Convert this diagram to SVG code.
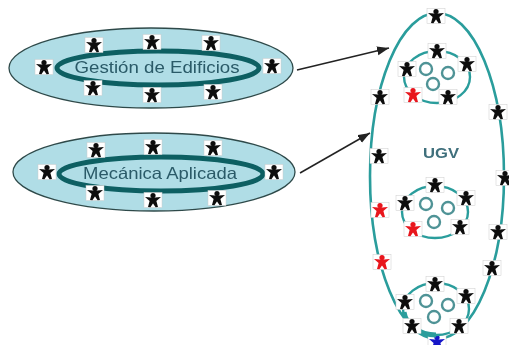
<svg xmlns="http://www.w3.org/2000/svg" width="509" height="345" viewBox="0 0 509 345">
<style>
.outer{fill:#b0dde6;stroke:#2f4a4a;stroke-width:1.3}
.inner{fill:#b0dde6;stroke:#0b5e62;stroke-width:5}
.big{fill:none;stroke:#2a9d9c;stroke-width:2.6}
.small{fill:none;stroke:#2a9d9c;stroke-width:2.4}
.ring{fill:none;stroke:#4f9396;stroke-width:2.4}
.lbl{font-family:"Liberation Sans",Arial,sans-serif;font-size:16.5px;fill:#2a5a68;text-anchor:middle}
.ugv{font-family:"Liberation Sans",Arial,sans-serif;font-size:14px;font-weight:bold;fill:#3f6f7c;text-anchor:middle}
.conn{stroke:#222;stroke-width:1.5;fill:none}
.k{color:#111}.r{color:#e8141c}.b{color:#1414c8}
</style>
<defs>
<marker id="ah" markerUnits="userSpaceOnUse" markerWidth="13" markerHeight="10" refX="12" refY="4.5" orient="auto"><path d="M0 0L12 4.5L0 9Z" fill="#222"/></marker>
<filter id="s" x="-5%" y="-5%" width="110%" height="110%"><feGaussianBlur stdDeviation="0.4"/></filter>
<g id="p">
<rect x="-9" y="-7.5" width="18" height="15" fill="#fff" stroke="#ccc" stroke-width="0.5"/>
<circle cx="0" cy="-4.4" r="2.6" fill="currentColor"/>
<path d="M-8-3L-2-2.6H2L8-3L3.4 1L5 7L2.6 7.2L0 3.4L-2.6 7.2L-5 7L-3.4 1Z" fill="currentColor"/>
</g>
</defs>
<rect width="509" height="345" fill="#fff"/>
<g filter="url(#s)">
<g id="connectors">
<path class="conn" d="M297 70L389 48" marker-end="url(#ah)"/>
<path class="conn" d="M300 173L370 133" marker-end="url(#ah)"/>
</g>
<g id="gestion">
<ellipse class="outer" cx="151" cy="68" rx="142" ry="40"/>
<ellipse class="inner" cx="158" cy="68" rx="101" ry="17"/>
<text class="lbl" x="157" y="73" textLength="165" lengthAdjust="spacingAndGlyphs">Gestión de Edificios</text>
<g class="k">
<use href="#p" x="94" y="45"/><use href="#p" x="152" y="42"/><use href="#p" x="211" y="43"/><use href="#p" x="44" y="67"/>
<use href="#p" x="272" y="66"/><use href="#p" x="93" y="88"/><use href="#p" x="152" y="95"/><use href="#p" x="213" y="92"/>
</g>
</g>
<g id="mecanica">
<ellipse class="outer" cx="154" cy="172" rx="141" ry="39"/>
<ellipse class="inner" cx="161" cy="174" rx="102" ry="17"/>
<text class="lbl" x="160" y="179" textLength="154" lengthAdjust="spacingAndGlyphs">Mecánica Aplicada</text>
<g class="k">
<use href="#p" x="96" y="150"/><use href="#p" x="153" y="147"/><use href="#p" x="213" y="148"/><use href="#p" x="47" y="172"/>
<use href="#p" x="274" y="172"/><use href="#p" x="95" y="193"/><use href="#p" x="153" y="200"/><use href="#p" x="217" y="198"/>
</g>
</g>
<g id="ugv">
<ellipse class="big" cx="437" cy="176" rx="67" ry="163"/>
<text class="ugv" x="441" y="158" textLength="36" lengthAdjust="spacingAndGlyphs">UGV</text>
<g class="k">
<use href="#p" x="436" y="16"/><use href="#p" x="380" y="97"/><use href="#p" x="498" y="112"/><use href="#p" x="379" y="156"/>
<use href="#p" x="505" y="178"/><use href="#p" x="498" y="232"/><use href="#p" x="492" y="268"/>
</g>
<g class="r"><use href="#p" x="380" y="210"/><use href="#p" x="382" y="262"/></g>
<g class="b"><use href="#p" x="437" y="342"/></g>
</g>
<g id="ugv-a">
<ellipse class="small" cx="437" cy="77" rx="33" ry="26"/>
<circle class="ring" cx="426" cy="69" r="6"/><circle class="ring" cx="448" cy="73" r="6"/><circle class="ring" cx="433" cy="84" r="6"/>
<g class="k"><use href="#p" x="437" y="51"/><use href="#p" x="407" y="69"/><use href="#p" x="467" y="64"/><use href="#p" x="448" y="97"/></g>
<g class="r"><use href="#p" x="413" y="95"/></g>
</g>
<g id="ugv-b">
<ellipse class="small" cx="435" cy="212" rx="33" ry="26"/>
<circle class="ring" cx="426" cy="204" r="6"/><circle class="ring" cx="448" cy="208" r="6"/><circle class="ring" cx="434" cy="222" r="6"/>
<g class="k"><use href="#p" x="435" y="185"/><use href="#p" x="405" y="203"/><use href="#p" x="466" y="198"/><use href="#p" x="460" y="227"/></g>
<g class="r"><use href="#p" x="413" y="229"/></g>
</g>
<g id="ugv-c">
<ellipse class="small" cx="436" cy="309" rx="33" ry="26"/>
<path d="M404 312A33 26 0 0 0 436 335" fill="none" stroke="#2a9d9c" stroke-width="5"/>
<circle class="ring" cx="426" cy="301" r="6"/><circle class="ring" cx="448" cy="305" r="6"/><circle class="ring" cx="434" cy="317" r="6"/>
<g class="k"><use href="#p" x="435" y="284"/><use href="#p" x="405" y="302"/><use href="#p" x="466" y="296"/><use href="#p" x="412" y="326"/><use href="#p" x="459" y="326"/></g>
</g>
</g>
</svg>
